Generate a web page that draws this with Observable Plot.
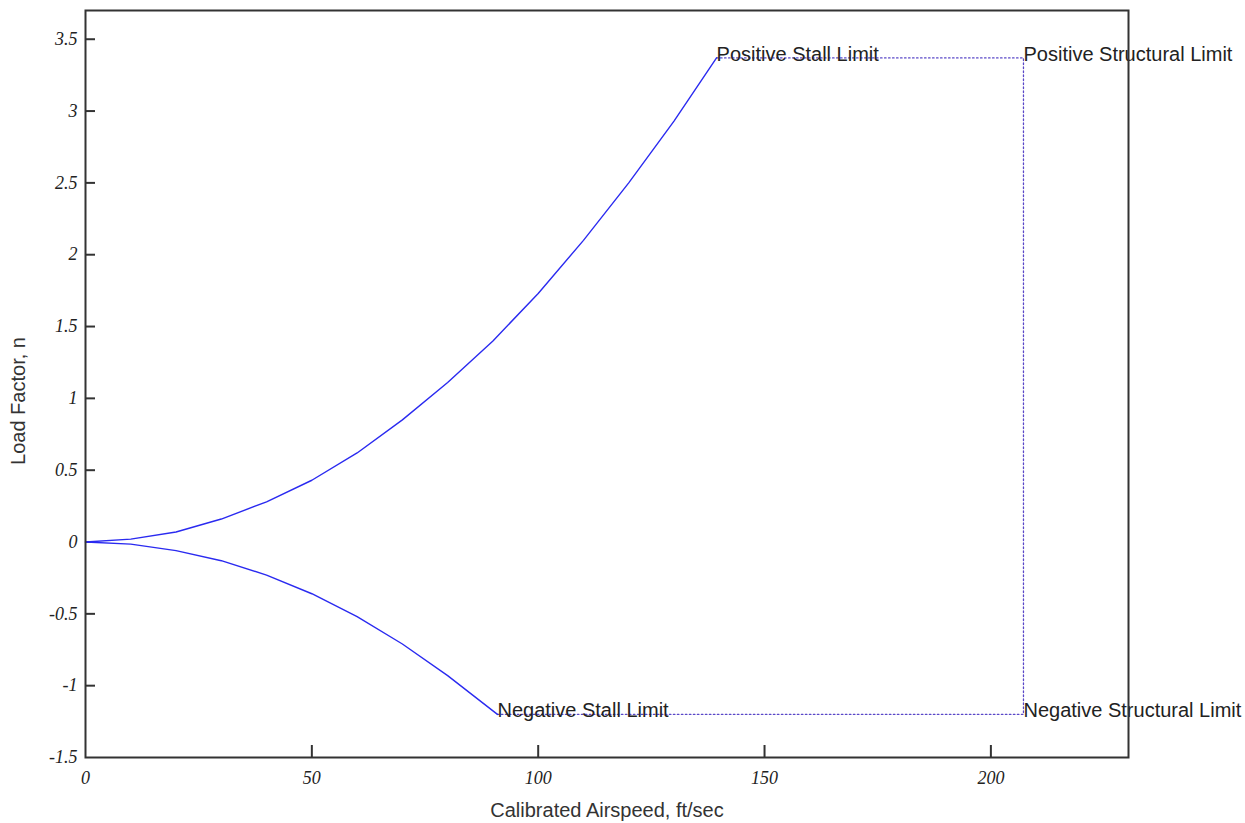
<!DOCTYPE html>
<html><head><meta charset="utf-8">
<script src="https://cdn.jsdelivr.net/npm/d3@7"></script>
<script src="https://cdn.jsdelivr.net/npm/@observablehq/plot@0.6"></script>
<style>body{margin:0;background:#fff;}</style>
</head><body><div id="chart"></div>
<script>
// Positive stall curve
const posSpeed = [0, 10, 20, 30, 40, 50, 60, 70, 80, 90, 100, 110, 120, 130, 139.4];
const posLoad  = [0, 0.02, 0.07, 0.16, 0.28, 0.43, 0.62, 0.85, 1.11, 1.40, 1.73, 2.10, 2.50, 2.93, 3.37];
// Negative stall curve
const negSpeed = [0, 10, 20, 30, 40, 50, 60, 70, 80, 91];
const negLoad  = [0, -0.015, -0.06, -0.13, -0.23, -0.36, -0.52, -0.71, -0.93, -1.2];
// Limit envelope (dotted)
const envSpeed = [139.4, 207.2, 207.2, 91];
const envLoad  = [3.37, 3.37, -1.2, -1.2];
// Annotations
const labelText  = ["Positive Stall Limit", "Positive Structural Limit", "Negative Stall Limit", "Negative Structural Limit"];
const labelSpeed = [139.4, 207.2, 91, 207.2];
const labelLoad  = [3.37, 3.37, -1.2, -1.2];
// Ticks
const xTicks = [0, 50, 100, 150, 200];
const yTicks = [3.5, 3, 2.5, 2, 1.5, 1, 0.5, 0, -0.5, -1, -1.5];

const pos = posSpeed.map((v, i) => ({v, n: posLoad[i]}));
const neg = negSpeed.map((v, i) => ({v, n: negLoad[i]}));
const env = envSpeed.map((v, i) => ({v, n: envLoad[i]}));
const labels = labelText.map((t, i) => ({t, v: labelSpeed[i], n: labelLoad[i]}));

const W = 1245, H = 823, mL = 85, mR = 117, mT = 10, mB = 66;
const frameW = W - mL - mR, frameH = H - mT - mB;
const tickFont = {fontFamily: "Liberation Serif", fontStyle: "italic", fontSize: 18, fill: "#222"};

const chart = Plot.plot({
  width: W, height: H,
  marginLeft: mL, marginRight: mR, marginTop: mT, marginBottom: mB,
  x: {domain: [0, 230.4]},
  y: {domain: [-1.5, 3.7]},
  style: {fontFamily: "Liberation Sans", fontSize: "20px", color: "#222", background: "#fff"},
  marks: [
    Plot.axisY(yTicks, {tickSize: 0, tickPadding: 8, tickFormat: d => String(d), label: null, ...tickFont}),
    Plot.axisX(xTicks, {tickSize: 0, tickPadding: 14, tickFormat: d => String(d), label: null, ...tickFont}),
    Plot.ruleY(yTicks.filter(d => d > -1.5), {y: d => d, insetRight: frameW - 10, stroke: "#333", strokeWidth: 2}),
    Plot.ruleX(xTicks.filter(d => d > 0), {x: d => d, insetTop: frameH - 12, stroke: "#333", strokeWidth: 2}),
    Plot.line(env, {x: "v", y: "n", stroke: "#5a48c8", strokeWidth: 1.3, strokeDasharray: "1.5,2.5"}),
    Plot.line(pos, {x: "v", y: "n", stroke: "#2a2af0", strokeWidth: 1.4}),
    Plot.line(neg, {x: "v", y: "n", stroke: "#2a2af0", strokeWidth: 1.4}),
    Plot.text(labels, {x: "v", y: "n", text: "t", textAnchor: "start", lineAnchor: "bottom", dy: 3, fontSize: 20, fill: "#222"}),
    Plot.frame({stroke: "#333", strokeWidth: 2}),
    Plot.text(["Load Factor, n"], {text: d => d, frameAnchor: "left", textAnchor: "middle", lineAnchor: "middle", rotate: -90, dx: -67, dy: 17, fontSize: 20, fill: "#333"}),
    Plot.text(["Calibrated Airspeed, ft/sec"], {text: d => d, frameAnchor: "bottom", textAnchor: "middle", lineAnchor: "middle", dy: 53, fontSize: 20, fill: "#333"})
  ]
});
document.getElementById("chart").appendChild(chart);
</script>
</body></html>
